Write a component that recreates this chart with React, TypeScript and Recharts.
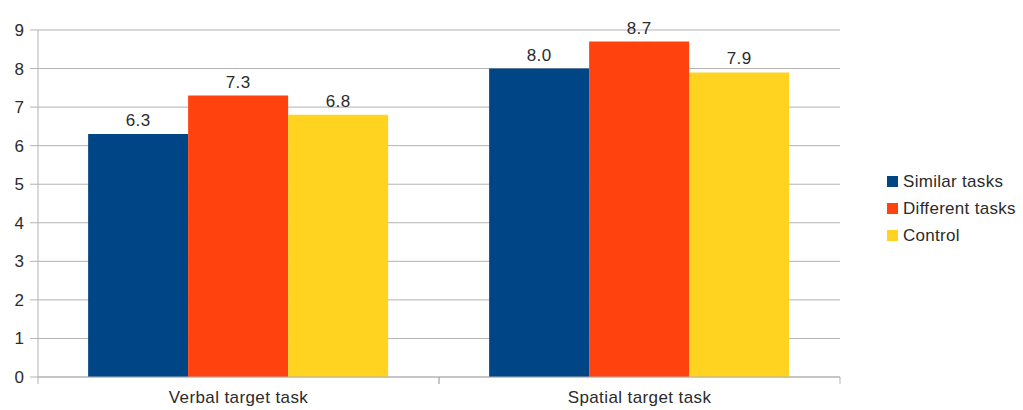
import { BarChart, Bar, XAxis, YAxis, CartesianGrid, LabelList } from "recharts"

const categories = ["Verbal target task", "Spatial target task"]
const similar = [6.3, 8.0]
const different = [7.3, 8.7]
const control = [6.8, 7.9]
const yTicks = [0, 1, 2, 3, 4, 5, 6, 7, 8, 9]

const seriesNames = ["Similar tasks", "Different tasks", "Control"]
const colors = ["#004586", "#ff420e", "#ffd320"]

const data = categories.map((c, i) => ({
    name: c,
    similar: similar[i],
    different: different[i],
    control: control[i]
}))

const font = "'Liberation Sans', Arial, sans-serif"
const textColor = "#2b2b2b"
const axisGray = "#b3b3b3"
const fontSize = 17

// category ticks sit at the band edges, like the original
const CategoryTick = (props: any) => {
    const { x, y, payload, width, visibleTicksCount } = props
    const half = width / (2 * visibleTicksCount)
    return (
        <g>
            <line x1={x - half} y1={y - 10} x2={x - half} y2={y - 3} stroke={axisGray} />
            <line x1={x + half} y1={y - 10} x2={x + half} y2={y - 3} stroke={axisGray} />
            <text x={x} y={y + 16} textAnchor="middle" fill={textColor} fontSize={fontSize}
                fontFamily={font} letterSpacing={0.4}>
                {payload.value}
            </text>
        </g>
    )
}

export default function App() {
    return (
        <div style={{ position: "relative", width: 1023, height: 410, background: "#fff" }}>
            <style>{`body{margin:0}`}</style>
            <BarChart
                width={1023}
                height={410}
                data={data}
                margin={{ top: 30, right: 183, left: 0, bottom: 0 }}
                barCategoryGap="12.5%"
                barGap={0}
            >
                <CartesianGrid vertical={false} stroke={axisGray} />
                <XAxis
                    dataKey="name"
                    height={33}
                    axisLine={{ stroke: axisGray }}
                    tickLine={false}
                    tickSize={8}
                    tick={<CategoryTick />}
                    interval={0}
                />
                <YAxis
                    width={38}
                    domain={[0, 9]}
                    ticks={yTicks}
                    interval={0}
                    axisLine={{ stroke: axisGray }}
                    tickLine={{ stroke: axisGray }}
                    tickSize={8}
                    tickMargin={6}
                    tick={{ fill: textColor, fontSize, fontFamily: font }}
                />
                {(["similar", "different", "control"] as const).map((k, i) => (
                    <Bar key={k} dataKey={k} name={seriesNames[i]} fill={colors[i]} isAnimationActive={false}>
                        <LabelList
                            dataKey={k}
                            position="top"
                            offset={8}
                            formatter={(v: any) => Number(v).toFixed(1)}
                            style={{ fill: textColor, fontSize, fontFamily: font, letterSpacing: 0.4 }}
                        />
                    </Bar>
                ))}
            </BarChart>
            <div style={{ position: "absolute", left: 887, top: 168, fontFamily: font, fontSize, color: textColor, letterSpacing: 0.3 }}>
                {seriesNames.map((n, i) => (
                    <div key={n} style={{ display: "flex", alignItems: "center", height: 27, whiteSpace: "nowrap" }}>
                        <span style={{ width: 11, height: 11, background: colors[i], marginRight: 5, display: "inline-block" }} />
                        {n}
                    </div>
                ))}
            </div>
        </div>
    )
}
